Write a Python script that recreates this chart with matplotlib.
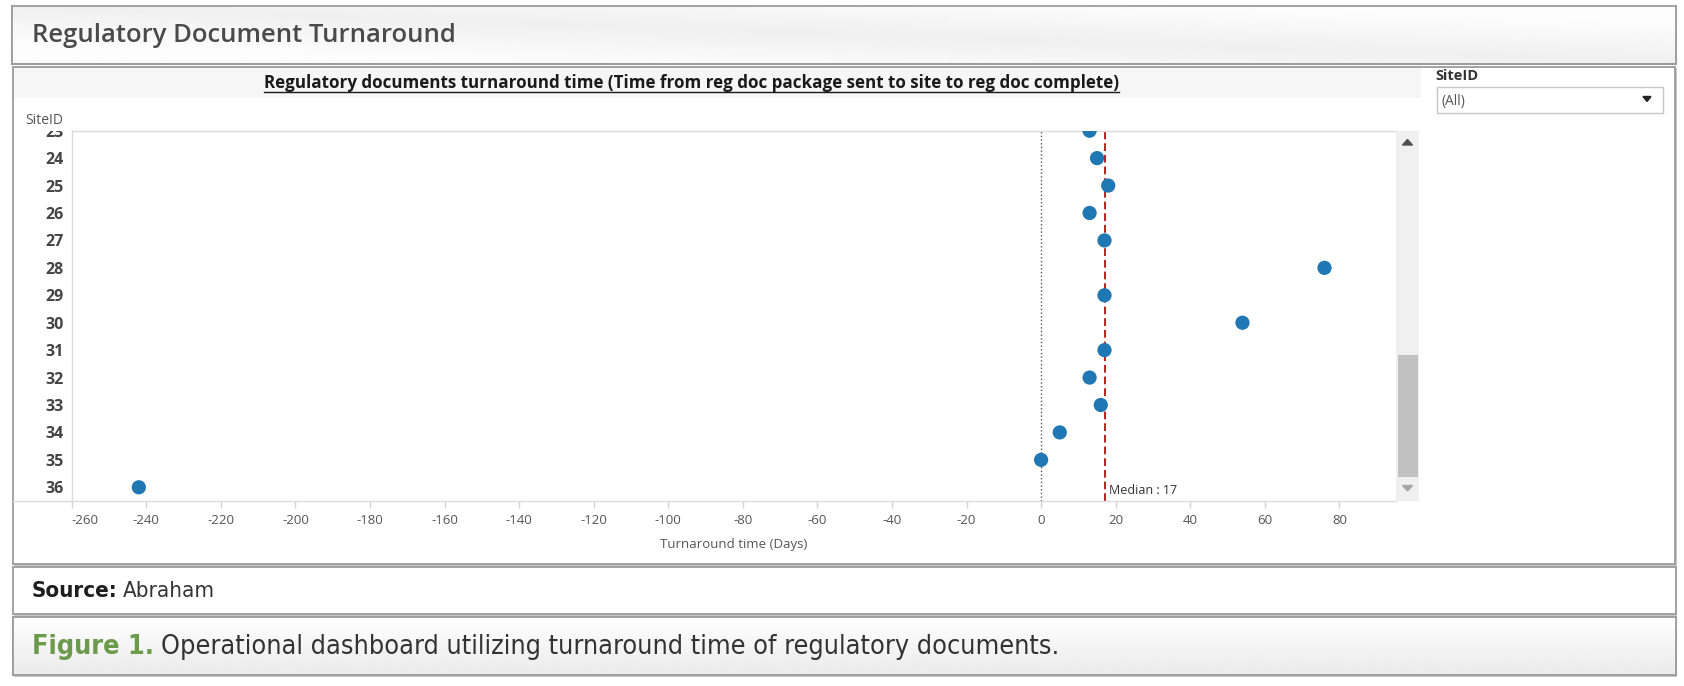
import matplotlib.pyplot as plt
import numpy as np
from matplotlib import font_manager
from matplotlib.patches import Rectangle, Polygon
from matplotlib.transforms import Bbox

# values (rows 23-36 visible in the scroll window)
site_ids = [23, 24, 25, 26, 27, 28, 29, 30, 31, 32, 33, 34, 35, 36]
turnaround_days = [13, 15, 18, 13, 17, 76, 17, 54, 17, 13, 16, 5, 0, -242]
median_days = 17
x_ticks = list(range(-260, 81, 20))

W, H = 1684, 686
installed = {f.name for f in font_manager.fontManager.ttflist}
UI_FONT = "Open Sans" if "Open Sans" in installed else "DejaVu Sans"
plt.rcParams["font.family"] = [UI_FONT, "DejaVu Sans"]


def narrow_font(bold):
    # a condensed face for the journal caption if one is installed
    for f in font_manager.fontManager.ttflist:
        name = f.fname.lower()
        if ("narrow" in name or "condensed" in name) and ("bold" in name) == bold \
                and "italic" not in name and "oblique" not in name:
            return font_manager.FontProperties(fname=f.fname)
    return font_manager.FontProperties(family="Roboto", weight="bold" if bold else "normal")


fig = plt.figure(figsize=(W / 100, H / 100), dpi=100)
fig.patch.set_facecolor("white")

# background layer in pixel coordinates (origin top-left)
bg = fig.add_axes([0, 0, 1, 1], zorder=0)
bg.set_xlim(0, W)
bg.set_ylim(H, 0)
bg.axis("off")


def box(x0, y0, x1, y1, face="white", edge="#9c9c9c", shadow=True):
    if shadow:
        bg.add_patch(Rectangle((x0 + 1.5, y0 + 1.5), x1 - x0, y1 - y0, facecolor="#c8c8c8",
                               edgecolor="none", zorder=1))
    bg.add_patch(Rectangle((x0, y0), x1 - x0, y1 - y0, facecolor=face, edgecolor=edge,
                           linewidth=1.3, zorder=2))


def gradient(x0, y0, x1, y1, img):
    bg.imshow(img, extent=(x0, x1, y1, y0), cmap="gray", vmin=0, vmax=1, aspect="auto",
              interpolation="bilinear", zorder=2.5)
    bg.add_patch(Rectangle((x0, y0), x1 - x0, y1 - y0, facecolor="none", edgecolor="#9c9c9c",
                           linewidth=1.3, zorder=3))


def fit_width(text, target):
    fig.canvas.draw()
    width = text.get_window_extent().width
    text.set_fontsize(text.get_fontsize() * target / width)


def fit_pair(first, second, gap, target):
    # bold lead-in followed by regular text, both at one size spanning the target width
    for _ in range(2):
        fig.canvas.draw()
        second.set_x(first.get_window_extent().x1 + gap)
        fig.canvas.draw()
        width = second.get_window_extent().x1 - first.get_window_extent().x0
        size = first.get_fontsize() * target / width
        first.set_fontsize(size)
        second.set_fontsize(size)
    fig.canvas.draw()
    second.set_x(first.get_window_extent().x1 + gap)


# header
box(11.7, 6, 1675.7, 63.5, face="#f2f2f2")
gx, gy = np.meshgrid(np.linspace(0, 1, 200), np.linspace(0, 1, 40))
gradient(11.7, 6, 1675.7, 63.5, 0.99 - 0.05 * np.clip(1 - 1.5 * np.abs(gy - gx), 0, 1))
header = bg.text(32, 35, "Regulatory Document Turnaround", fontsize=18, color="#4a4a4a",
                 fontweight="semibold", va="center", ha="left", zorder=4)

# dashboard panel
box(12.7, 66.7, 1675, 564)
bg.add_patch(Rectangle((13.5, 68), 1420.7 - 13.5, 98.3 - 68, facecolor="#f6f6f6",
                       edgecolor="none", zorder=3))
title = bg.text(691, 88, "Regulatory documents turnaround time (Time from reg doc package sent "
                         "to site to reg doc complete)",
                fontsize=12, fontweight="bold", color="#1a1a1a", ha="center", va="baseline", zorder=4)
bg.text(44, 120, "SiteID", fontsize=10, color="#555555", ha="center", va="center", zorder=4)
bg.plot([12.7, 71.7], [501, 501], color="#d9d9d9", lw=1, zorder=3)

# scrollbar
bg.add_patch(Rectangle((1395.7, 130.7), 23.6, 370, facecolor="#f0f0f0", edgecolor="none", zorder=3))
bg.add_patch(Rectangle((1398, 354.5), 19.5, 122.8, facecolor="#c1c1c1", edgecolor="none", zorder=4))
bg.add_patch(Polygon([(1402.5, 145), (1412.5, 145), (1407.5, 139.5)], color="#505050", zorder=4))
bg.add_patch(Polygon([(1402.5, 485.5), (1412.5, 485.5), (1407.5, 491)], color="#a8a8a8", zorder=4))

# filter
bg.text(1435, 75.7, "SiteID", fontsize=10.5, fontweight="bold", color="#333333", va="center", zorder=4)
bg.add_patch(Rectangle((1436.7, 87.3), 226.6, 26, facecolor="white", edgecolor="#c6c6c6",
                       linewidth=1, zorder=4))
bg.text(1441.7, 101, "(All)", fontsize=10, color="#555555", va="center", zorder=5)
bg.add_patch(Polygon([(1643, 96.5), (1651, 96.5), (1647, 101.5)], color="#222222", zorder=5))

# source and caption
box(12.7, 566.7, 1675.7, 614)
src_bold = bg.text(32, 591, "Source:", fontproperties=narrow_font(True), fontsize=16,
                   color="#1e1e1e", va="center", zorder=4)
src_text = bg.text(129, 591, "Abraham", fontproperties=narrow_font(False), fontsize=16,
                   color="#333333", va="center", zorder=4)
box(12.7, 617.3, 1675.7, 675, face="#f4f4f4")
gradient(12.7, 617.3, 1675.7, 675, np.linspace(1.0, 0.92, 40)[:, None] * np.ones((1, 10)))
fig_bold = bg.text(32, 647, "Figure 1.", fontproperties=narrow_font(True), fontsize=20,
                   color="#6b9a4b", va="center", zorder=4)
fig_text = bg.text(157, 647, "Operational dashboard utilizing turnaround time of regulatory documents.",
                   fontproperties=narrow_font(False), fontsize=20, color="#333333", va="center", zorder=4)

# plot area
L, T, R, B = 71.7, 130.7, 1395.7, 501
ax = fig.add_axes([L / W, 1 - B / H, (R - L) / W, (B - T) / H], zorder=2)
ax.set_facecolor("white")

ax.axvline(0, color="#555555", linestyle=":", linewidth=1, zorder=1)
ax.axvline(median_days, color="#b3261e", linestyle=(0, (4, 2)), linewidth=1.4, zorder=1)
ax.scatter(turnaround_days, site_ids, s=105, color="#1f77b4", edgecolor="none", zorder=3)
ax.text(median_days + 1.2, 36.12, f"Median : {median_days}", fontsize=9, color="#333333",
        va="center", ha="left")

ax.set_xlim(-260, 95.1)
ax.set_ylim(36.5, 23.03)
ax.set_xticks(x_ticks)
ax.set_xticklabels([str(t) for t in x_ticks], fontsize=9.5, color="#555555")
ax.get_xticklabels()[0].set_horizontalalignment("left")
ax.set_yticks(site_ids)
ax.set_yticklabels([str(s) for s in site_ids], fontsize=11.5, fontweight="bold", color="#444444")
ax.tick_params(axis="x", length=5, width=1, color="#d4d4d4", pad=4)
ax.tick_params(axis="y", length=0, pad=6)
ax.set_xlabel("Turnaround time (Days)", fontsize=9.5, color="#555555", labelpad=8)

for side in ["left", "bottom", "top"]:
    ax.spines[side].set_color("#dcdcdc")
    ax.spines[side].set_linewidth(1)
ax.spines["right"].set_visible(False)

# the scroll window cuts off the row labels above the plot top
clip = fig.transFigure.transform_bbox(Bbox([[0, 0], [1, 1 - T / H]]))
for label in ax.get_yticklabels():
    label.set_clip_on(True)
    label.set_clip_box(clip)

# size the texts to the widths measured on the reference
fit_width(header, 424)
fit_width(title, 852)
fit_pair(src_bold, src_text, 5, 183)
fit_pair(fig_bold, fig_text, 7, 1028)

# underline for the chart title
fig.canvas.draw()
bb = title.get_window_extent()
bg.plot([bb.x0, bb.x1], [92.3, 92.3], color="#1a1a1a", lw=1, zorder=4)

fig.savefig("out.png", dpi=100)
